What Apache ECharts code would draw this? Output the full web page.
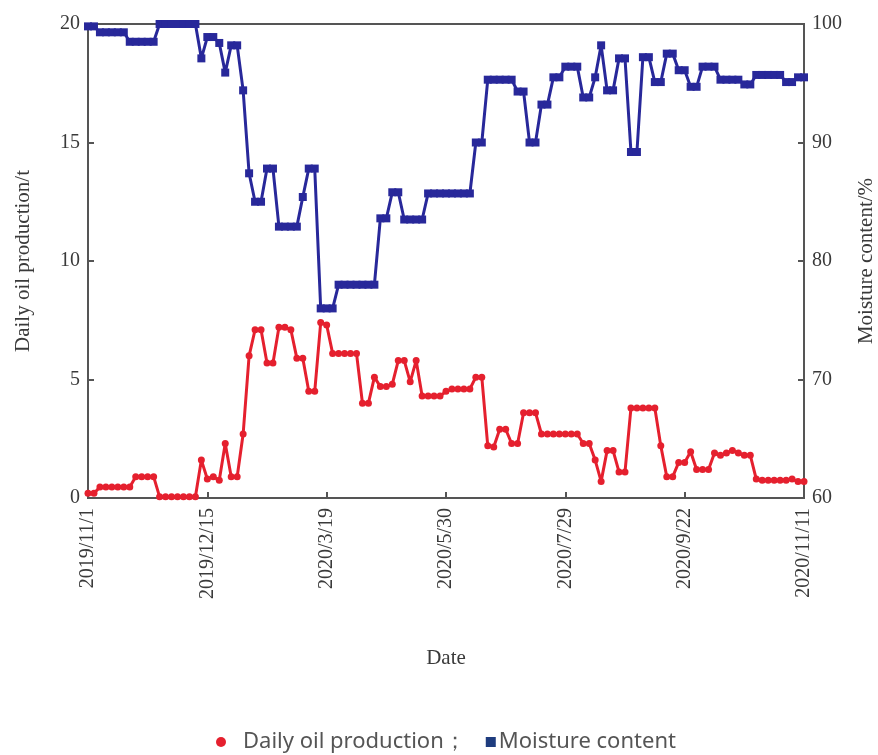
<!DOCTYPE html>
<html>
<head>
<meta charset="utf-8">
<script src="https://cdn.jsdelivr.net/npm/echarts@6/dist/echarts.min.js"></script>
<style>
  html, body { margin: 0; padding: 0; background: #fff; }
  #main { width: 878px; height: 755px; }
</style>
</head>
<body>
<div id="main"></div>
<script>
// date labels on the x axis (one every 20 samples)
var tickLabels = ['2019/11/1', '2019/12/15', '2020/3/19', '2020/5/30', '2020/7/29', '2020/9/22', '2020/11/11'];

// daily oil production, t (left axis)
var oilProduction = [
  0.2, 0.2, 0.46, 0.46, 0.46, 0.46, 0.46, 0.46, 0.9, 0.9,
  0.9, 0.9, 0.05, 0.05, 0.05, 0.05, 0.05, 0.05, 0.05, 1.6,
  0.8, 0.9, 0.75, 2.3, 0.9, 0.9, 2.7, 6.0, 7.1, 7.1,
  5.7, 5.7, 7.2, 7.2, 7.1, 5.9, 5.9, 4.5, 4.5, 7.4,
  7.3, 6.1, 6.1, 6.1, 6.1, 6.1, 4.0, 4.0, 5.1, 4.7,
  4.7, 4.8, 5.8, 5.8, 4.9, 5.8, 4.3, 4.3, 4.3, 4.3,
  4.5, 4.6, 4.6, 4.6, 4.6, 5.1, 5.1, 2.2, 2.15, 2.9,
  2.9, 2.3, 2.3, 3.6, 3.6, 3.6, 2.7, 2.7, 2.7, 2.7,
  2.7, 2.7, 2.7, 2.3, 2.3, 1.6, 0.7, 2.0, 2.0, 1.1,
  1.1, 3.8, 3.8, 3.8, 3.8, 3.8, 2.2, 0.9, 0.9, 1.5,
  1.5, 1.95, 1.2, 1.2, 1.2, 1.9, 1.8, 1.9, 2.0, 1.9,
  1.8, 1.8, 0.8, 0.75, 0.75, 0.75, 0.75, 0.75, 0.8, 0.7,
  0.7
];

// moisture content, % (right axis)
var moisture = [
  99.8, 99.8, 99.3, 99.3, 99.3, 99.3, 99.3, 98.5, 98.5, 98.5,
  98.5, 98.5, 100, 100, 100, 100, 100, 100, 100, 97.1,
  98.9, 98.9, 98.4, 95.9, 98.2, 98.2, 94.4, 87.4, 85.0, 85.0,
  87.8, 87.8, 82.9, 82.9, 82.9, 82.9, 85.4, 87.8, 87.8, 76.0,
  76.0, 76.0, 78.0, 78.0, 78.0, 78.0, 78.0, 78.0, 78.0, 83.6,
  83.6, 85.8, 85.8, 83.5, 83.5, 83.5, 83.5, 85.7, 85.7, 85.7,
  85.7, 85.7, 85.7, 85.7, 85.7, 90.0, 90.0, 95.3, 95.3, 95.3,
  95.3, 95.3, 94.3, 94.3, 90.0, 90.0, 93.2, 93.2, 95.5, 95.5,
  96.4, 96.4, 96.4, 93.8, 93.8, 95.5, 98.2, 94.4, 94.4, 97.1,
  97.1, 89.2, 89.2, 97.2, 97.2, 95.1, 95.1, 97.5, 97.5, 96.1,
  96.1, 94.7, 94.7, 96.4, 96.4, 96.4, 95.3, 95.3, 95.3, 95.3,
  94.9, 94.9, 95.7, 95.7, 95.7, 95.7, 95.7, 95.1, 95.1, 95.5,
  95.5
];

var samples = oilProduction.map(function (v, i) { return i; });

var axisColor = '#555';
var textColor = '#3a3a3a';
var serif = '"Liberation Serif", "DejaVu Serif", serif';

var myChart = echarts.init(document.getElementById('main'));
var option = {
  animation: false,
  grid: {
    left: 88,
    right: 74,
    top: 24,
    bottom: 257,
    outerBoundsMode: 'none',
    containLabel: false,
    show: true,
    borderColor: axisColor,
    borderWidth: 2
  },
  legend: {
    left: 211,
    top: 726,
    itemGap: 20,
    itemWidth: 10,
    itemHeight: 10,
    textStyle: { fontSize: 22, color: '#555', fontFamily: '"Noto Sans", sans-serif' },
    data: [
      { name: 'Daily oil production；', icon: 'circle', itemStyle: { color: '#e5202e' }, textStyle: { padding: [0, 0, 0, 12] } },
      { name: 'Moisture content', icon: 'rect', itemStyle: { color: '#1e3c7e' }, textStyle: { padding: [0, 0, 0, -2] } }
    ]
  },
  xAxis: {
    type: 'category',
    data: samples,
    boundaryGap: false,
    name: 'Date',
    nameLocation: 'middle',
    nameGap: 150,
    nameTextStyle: { fontSize: 21, color: textColor, fontFamily: serif },
    axisLine: { lineStyle: { color: axisColor, width: 2 } },
    axisTick: { inside: true, interval: 19, length: 6, lineStyle: { color: axisColor, width: 2 } },
    axisLabel: {
      interval: 19,
      rotate: 90,
      margin: 10,
      fontSize: 20,
      color: textColor,
      fontFamily: serif,
      formatter: function (v, idx) { return tickLabels[idx / 20]; }
    },
    splitLine: { show: false }
  },
  yAxis: [{
    type: 'value',
    min: 0,
    max: 20,
    interval: 5,
    position: 'left',
    name: 'Daily oil production/t',
    nameLocation: 'middle',
    nameRotate: 90,
    nameGap: 54,
    nameTextStyle: { fontSize: 21, color: textColor, fontFamily: serif },
    axisLine: { show: true, lineStyle: { color: axisColor, width: 2 } },
    axisTick: { show: true, inside: true, length: 6, lineStyle: { color: axisColor, width: 2 } },
    axisLabel: { fontSize: 20, color: textColor, fontFamily: serif, margin: 8 },
    splitLine: { show: false }
  }, {
    type: 'value',
    min: 60,
    max: 100,
    interval: 10,
    position: 'right',
    name: 'Moisture content/%',
    nameLocation: 'middle',
    nameRotate: 90,
    nameGap: 52,
    nameTextStyle: { fontSize: 21, color: textColor, fontFamily: serif },
    axisLine: { show: true, lineStyle: { color: axisColor, width: 2 } },
    axisTick: { show: true, inside: true, length: 6, lineStyle: { color: axisColor, width: 2 } },
    axisLabel: { fontSize: 20, color: textColor, fontFamily: serif, margin: 8 },
    splitLine: { show: false }
  }],
  series: [{
    name: 'Moisture content',
    type: 'line',
    yAxisIndex: 1,
    data: moisture,
    symbol: 'rect',
    symbolSize: 8,
    showAllSymbol: true,
    itemStyle: { color: '#28289a' },
    lineStyle: { color: '#28289a', width: 3 }
  }, {
    name: 'Daily oil production；',
    type: 'line',
    yAxisIndex: 0,
    data: oilProduction,
    symbol: 'circle',
    symbolSize: 7,
    showAllSymbol: true,
    itemStyle: { color: '#e5202e' },
    lineStyle: { color: '#e5202e', width: 3 }
  }]
};

// 使用刚指定的配置项和数据显示图表。
myChart.setOption(option);
</script>
</body>
</html>
